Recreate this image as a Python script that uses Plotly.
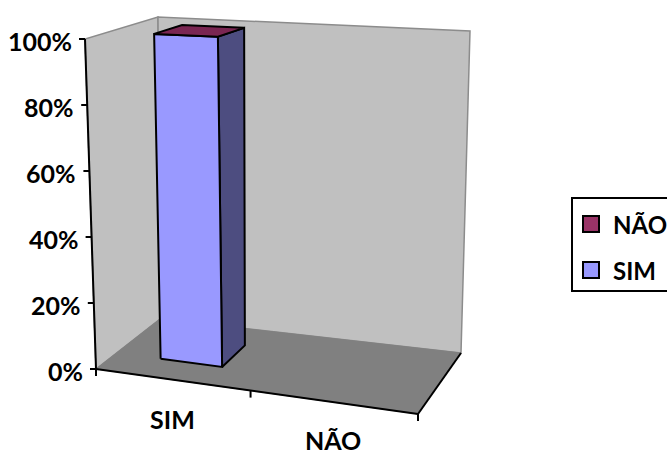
import plotly.graph_objects as go

categories = ["SIM", "NÃO"]
series_names = ["SIM", "NÃO"]
sim_values = [100, 0]
nao_values = [0, 0]
y_ticks = [0, 20, 40, 60, 80, 100]
y_tick_labels = ["0%", "20%", "40%", "60%", "80%", "100%"]

FONT = "Lato"
FS = 25
W, H = 667, 453

# projection box of the pseudo-3D plot: (category, depth, value) -> page pixels
C000 = (96, 369); C100 = (418, 414); C010 = (160, 319); C110 = (461, 353)
C001 = (85, 39);  C101 = (419, 53);  C011 = (158, 17);  C111 = (470, 31)


def lerp(a, b, t):
    return (a[0] + (b[0] - a[0]) * t, a[1] + (b[1] - a[1]) * t)


def proj(u, w, v):
    bottom = lerp(lerp(C000, C100, u), lerp(C010, C110, u), w)
    top = lerp(lerp(C001, C101, u), lerp(C011, C111, u), w)
    return lerp(bottom, top, v / 100)


def poly(points, fill, line=None, lw=0):
    xs = [p[0] for p in points] + [points[0][0]]
    ys = [p[1] for p in points] + [points[0][1]]
    return go.Scatter(x=xs, y=ys, mode="lines", fill="toself", fillcolor=fill,
                      line=dict(color=line or fill, width=lw), hoverinfo="skip", showlegend=False)


def seg(a, b, color="#000000", lw=1.5):
    return go.Scatter(x=[a[0], b[0]], y=[a[1], b[1]], mode="lines",
                      line=dict(color=color, width=lw), hoverinfo="skip", showlegend=False)


fig = go.Figure()
# walls and floor
fig.add_trace(poly([proj(0, 0, 0), proj(0, 1, 0), proj(0, 1, 100), proj(0, 0, 100)], "#C0C0C0", "#8C8C8C", 1.5))
fig.add_trace(poly([proj(0, 1, 0), proj(1, 1, 0), proj(1, 1, 100), proj(0, 1, 100)], "#C0C0C0", "#8C8C8C", 1.5))
fig.add_trace(poly([proj(0, 0, 0), proj(1, 0, 0), proj(1, 1, 0), proj(0, 1, 0)], "#808080", "#808080", 1))

# axes
fig.add_trace(seg(proj(0, 0, 0), proj(0, 0, 100), lw=2))
fig.add_trace(seg(proj(0, 0, 0), proj(1, 0, 0), lw=2))
fig.add_trace(seg(proj(1, 0, 0), proj(1, 1, 0), lw=2))
for t in y_ticks:
    p = proj(0, 0, t)
    fig.add_trace(seg((p[0] - 6, p[1]), p, lw=2))
for u in [0, 0.48, 1]:
    p = proj(u, 0, 0)
    fig.add_trace(seg(p, (p[0], p[1] + 7), lw=2))

# bars (stacked to 100 %)
U0, U1, W0, W1 = 0.14, 0.335, 0.32, 0.72
for i in range(len(categories)):
    ui0, ui1 = U0 + i * 0.48, U1 + i * 0.48
    low, high = 0, sim_values[i]
    if high <= low:
        continue
    total = sim_values[i] + nao_values[i]
    fig.add_trace(poly([proj(ui1, W0, low), proj(ui1, W1, low), proj(ui1, W1, high), proj(ui1, W0, high)],
                       "#4D4D80", "#000000", 2))
    fig.add_trace(poly([proj(ui0, W0, low), proj(ui1, W0, low), proj(ui1, W0, high), proj(ui0, W0, high)],
                       "#9999FF", "#000000", 2))
    fig.add_trace(poly([proj(ui0, W0, total), proj(ui1, W0, total), proj(ui1, W1, total), proj(ui0, W1, total)],
                       "#7A2652", "#000000", 2))

annotations = []
for t, lab in zip(y_ticks, y_tick_labels):
    p = proj(0, 0, t)
    annotations.append(dict(x=p[0] - 11, y=p[1] + 1.5, text=f"<b>{lab}</b>", xanchor="right", yanchor="middle",
                            showarrow=False, font=dict(family=FONT, size=FS, color="#000000")))
for cat, xp, yp in zip(categories, [172, 333], [419, 440]):
    annotations.append(dict(x=xp, y=yp, text=f"<b>{cat}</b>", xanchor="center", yanchor="middle",
                            showarrow=False, font=dict(family=FONT, size=FS, color="#000000")))

# legend
legend_colors = {"NÃO": "#993366", "SIM": "#9999FF"}
for name, yp in zip(["NÃO", "SIM"], [224, 270]):
    fig.add_trace(go.Scatter(x=[591], y=[yp], mode="markers", hoverinfo="skip", showlegend=False,
                             marker=dict(symbol="square", size=16, color=legend_colors[name],
                                         line=dict(color="#000000", width=2))))
    annotations.append(dict(x=611, y=yp, text=f"<b>{name}</b>", xanchor="left", yanchor="middle",
                            showarrow=False, font=dict(family=FONT, size=24, color="#000000")))

fig.update_layout(
    width=W, height=H, margin=dict(l=0, r=0, t=0, b=0),
    paper_bgcolor="#FFFFFF", plot_bgcolor="#FFFFFF", showlegend=False,
    xaxis=dict(range=[0, W], visible=False, fixedrange=True),
    yaxis=dict(range=[H, 0], visible=False, fixedrange=True),
    annotations=annotations,
    shapes=[dict(type="rect", xref="x", yref="y", x0=572, y0=198, x1=680, y1=291,
                 line=dict(color="#000000", width=2), fillcolor="rgba(0,0,0,0)")],
)
fig.write_html("out.html", config={"displayModeBar": False},
               post_script="document.body.style.margin='0';document.body.style.overflow='hidden';")
